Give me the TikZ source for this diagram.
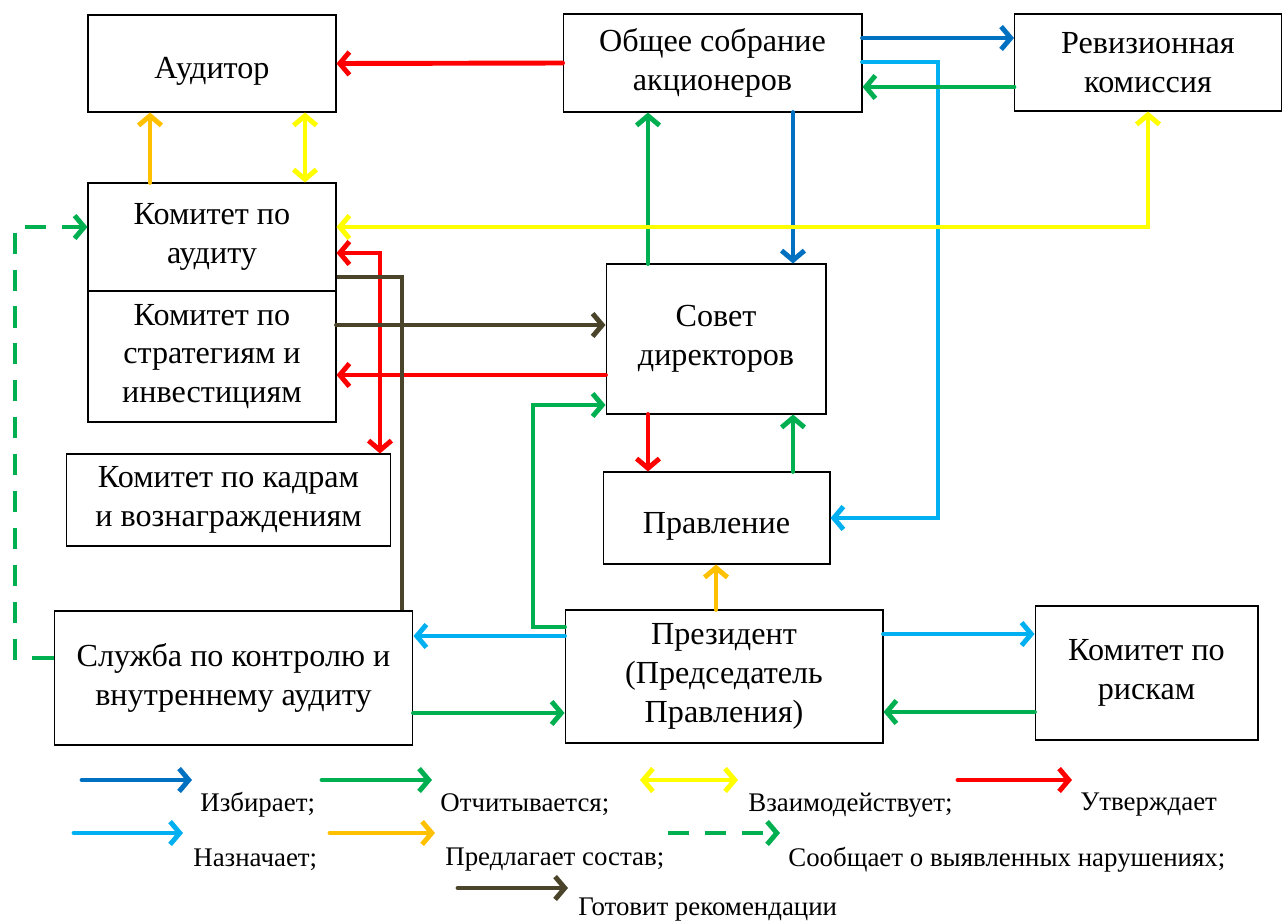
\documentclass[tikz,border=0pt]{standalone}
\usepackage{fontspec}
\setmainfont{Liberation Serif}
\usepackage{tikz}
\usetikzlibrary{arrows.meta}
\definecolor{izbblue}{RGB}{0, 112, 192}
\definecolor{otchgreen}{RGB}{0, 176, 80}
\definecolor{vzyellow}{RGB}{255, 255, 0}
\definecolor{utvred}{RGB}{255, 0, 0}
\definecolor{naznblue}{RGB}{0, 176, 240}
\definecolor{predorange}{RGB}{255, 192, 0}
\definecolor{gotolive}{RGB}{74, 69, 42}

\begin{document}
\begin{tikzpicture}[x=0.02cm, y=-0.02cm,
  box/.style={draw, line width=0.6pt, align=center, inner sep=2pt,
    font=\fontsize{18.3}{22}\selectfont, execute at begin node={\rule{0pt}{21pt}}},
  conn/.style={line width=2.8pt, line cap=round,
    -{Straight Barb[length=5.5pt, width=13pt]}},
  both/.style={line width=2.8pt, line cap=round,
    {Straight Barb[length=5.5pt, width=13pt]}-{Straight Barb[length=5.5pt, width=13pt]}},
  legtext/.style={anchor=west, inner sep=0pt, font=\fontsize{15.3}{17}\selectfont}]
\useasboundingbox (0,0) rectangle (1282,923);

\node[box, minimum width=4.96cm, minimum height=1.94cm] (aud) at (212,63.5) {Аудитор};
\node[box, minimum width=5.98cm, minimum height=1.96cm] (oso) at (712.5,63) {Общее собрание\\акционеров};
\node[box, minimum width=5.34cm, minimum height=1.94cm] (rev) at (1148,62.5) {Ревизионная\\комиссия};
\node[box, minimum width=4.96cm, minimum height=2.16cm] (kau) at (212,237) {Комитет по\\аудиту};
\node[box, minimum width=4.96cm, minimum height=2.62cm] (kst) at (212,356.5) {Комитет по\\стратегиям и\\инвестициям};
\node[box, minimum width=4.4cm, minimum height=3.0cm] (sov) at (716,339) {Совет\\директоров};
\node[box, minimum width=6.5cm, minimum height=1.84cm] (kkd) at (228.5,500) {Комитет по кадрам\\и вознаграждениям};
\node[box, minimum width=4.54cm, minimum height=1.84cm] (prv) at (716.5,518) {Правление};
\node[box, minimum width=7.18cm, minimum height=2.68cm] (slu) at (233.5,678) {Служба по контролю и\\внутреннему аудиту};
\node[box, minimum width=6.36cm, minimum height=2.66cm] (prz) at (724,676.5) {Президент\\(Председатель\\Правления)};
\node[box, minimum width=4.46cm, minimum height=2.68cm] (kri) at (1146.5,673) {Комитет по\\рискам};

\draw[conn, utvred] (oso.west) -- (aud.east);
\draw[conn, predorange] (150,0 |- kau.north) -- (150,0 |- aud.south);
\draw[both, vzyellow] (305,0 |- kau.north) -- (305,0 |- aud.south);
\draw[conn, izbblue] (oso.east |- 0,38) -- (rev.west |- 0,38);
\draw[conn, naznblue] (oso.east |- 0,62) -| (938,0 |- prv.east) -- (prv.east);
\draw[conn, otchgreen] (rev.west |- 0,87) -- (oso.east |- 0,87);
\draw[conn, otchgreen] (648,0 |- sov.north) -- (648,0 |- oso.south);
\draw[conn, izbblue] (793,0 |- oso.south) -- (793,0 |- sov.north);
\draw[both, vzyellow] (kau.east |- 0,227) -| (rev.south);
\draw[conn, utvred] (sov.west |- 0,375) -- (kst.east |- 0,375);
\draw[both, utvred] (kau.east |- 0,253) -| (380,0 |- kkd.north);
\draw[line width=2.8pt, gotolive] (kau.east |- 0,277) -| (402,0 |- slu.north);
\draw[conn, gotolive] (kst.east |- 0,325) -- (sov.west |- 0,325);
\draw[conn, otchgreen] (prz.west |- 0,627) -| (533,405) -- (sov.west |- 0,405);
\draw[conn, utvred] (648,0 |- sov.south) -- (648,0 |- prv.north);
\draw[conn, otchgreen] (793,0 |- prv.north) -- (793,0 |- sov.south);
\draw[conn, predorange] (716,0 |- prz.north) -- (716,0 |- prv.south);
\draw[conn, naznblue] (prz.west |- 0,636) -- (slu.east |- 0,636);
\draw[conn, otchgreen] (slu.east |- 0,713) -- (prz.west |- 0,713);
\draw[conn, naznblue] (prz.east |- 0,634) -- (kri.west |- 0,634);
\draw[conn, otchgreen] (kri.west |- 0,712) -- (prz.east |- 0,712);
\draw[conn, otchgreen, dash pattern=on 12pt off 9pt, line cap=butt] (slu.west |- 0,658) -| (15,227) -- (kau.west |- 0,227);

\draw[conn, izbblue] (82,780) -- (192,780);
\draw[conn, otchgreen] (322,780) -- (432,780);
\draw[both, vzyellow] (640,780) -- (738,780);
\draw[conn, utvred] (958,780) -- (1072,780);
\draw[conn, naznblue] (74,833) -- (183,833);
\draw[conn, predorange] (330,833) -- (435,833);
\draw[conn, otchgreen, dash pattern=on 12pt off 9pt, line cap=butt] (668,833) -- (780,833);
\draw[conn, gotolive] (458,888) -- (568,888);
\node[legtext] (l1) at (200,805) {Избирает;};
\node[legtext] (l2) at (440,805) {Отчитывается;};
\node[legtext] (l3) at (748,805) {Взаимодействует;};
\node[legtext] (l4) at (1080,805) {Утверждает};
\node[legtext] (l5) at (193,860) {Назначает;};
\node[legtext] (l6) at (445,860) {Предлагает состав;};
\node[legtext] (l7) at (788,860) {Сообщает о выявленных нарушениях;};
\node[legtext] (l8) at (578,910) {Готовит рекомендации};
\end{tikzpicture}
\end{document}
